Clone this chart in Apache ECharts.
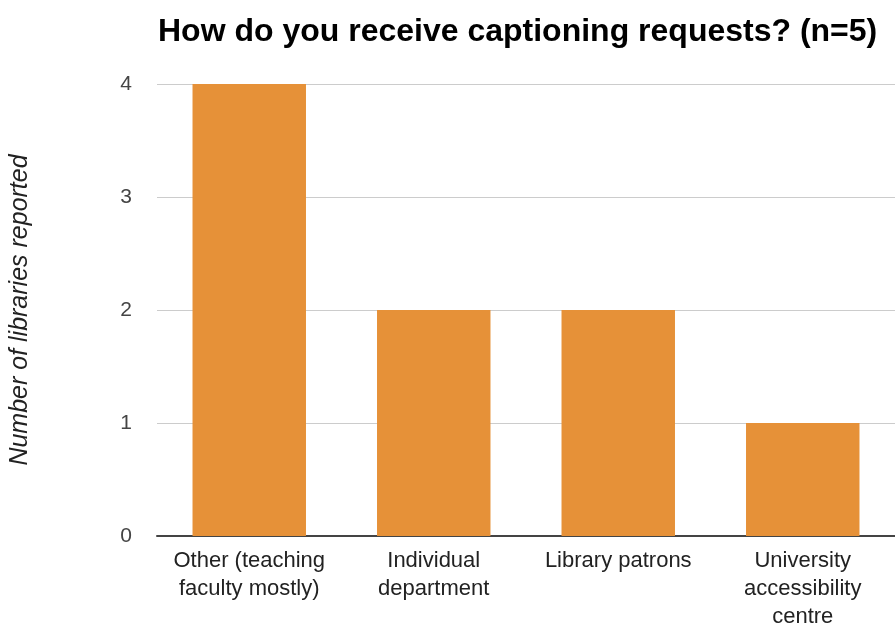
<!DOCTYPE html>
<html>
<head>
<meta charset="utf-8">
<script src="https://cdn.jsdelivr.net/npm/echarts@6/dist/echarts.min.js"></script>
<style>html,body{margin:0;padding:0;background:#fff}#c{width:895px;height:631px}</style>
</head>
<body>
<div id="c"></div>
<script>
const titleText = 'How do you receive captioning requests? (n=5)';
const yAxisTitle = 'Number of libraries reported';
const categories = ['Other (teaching\nfaculty mostly)', 'Individual\ndepartment', 'Library patrons', 'University\naccessibility\ncentre'];
const values = [4, 2, 2, 1];
const yMin = 0, yMax = 4, yStep = 1;

const chart = echarts.init(document.getElementById('c'), null, {renderer: 'canvas'});
chart.setOption({
  animation: false,
  backgroundColor: '#fff',
  title: {
    text: titleText,
    left: 153, top: 11,
    textStyle: {fontFamily: 'Liberation Sans, Arial, sans-serif', fontWeight: 'bold', fontSize: 32, color: '#000'}
  },
  grid: {left: 157, right: -4, top: 84, bottom: 91, containLabel: false},
  xAxis: {
    type: 'category',
    data: categories,
    axisLine: {show: true, lineStyle: {color: '#444', width: 2}},
    axisTick: {show: false},
    axisLabel: {
      interval: 0, margin: 11,
      fontFamily: 'Liberation Sans, Arial, sans-serif', fontSize: 22, lineHeight: 28, color: '#222'
    }
  },
  yAxis: {
    type: 'value', min: yMin, max: yMax, interval: yStep,
    name: yAxisTitle, nameLocation: 'middle', nameGap: 124,
    nameTextStyle: {fontFamily: 'Liberation Sans, Arial, sans-serif', fontStyle: 'italic', fontSize: 25, color: '#222'},
    axisLine: {show: false}, axisTick: {show: false},
    axisLabel: {margin: 25, fontFamily: 'Liberation Sans, Arial, sans-serif', fontSize: 21, color: '#444'},
    splitLine: {lineStyle: {color: '#ccc', width: 1}}
  },
  series: [{
    type: 'bar',
    data: values,
    barWidth: '61.5%',
    itemStyle: {color: '#E69138'}
  }]
});
</script>
</body>
</html>
